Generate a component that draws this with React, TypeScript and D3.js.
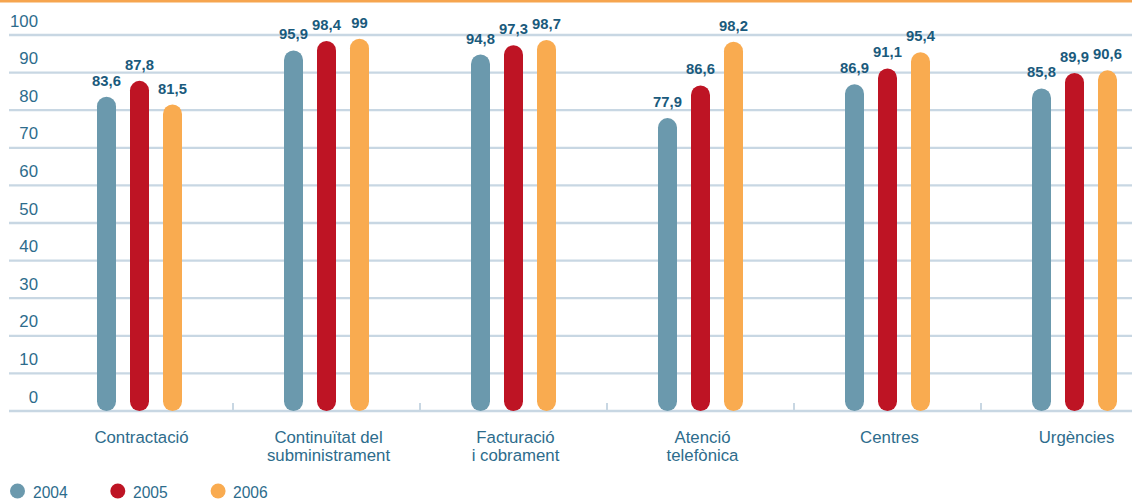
import React from "react";
import * as d3 from "d3";

const categories = [
  "Contractació",
  "Continuïtat del\nsubministrament",
  "Facturació\ni cobrament",
  "Atenció\ntelefònica",
  "Centres",
  "Urgències",
];
const years = ["2004", "2005", "2006"];
const v2004 = [83.6, 95.9, 94.8, 77.9, 86.9, 85.8];
const v2005 = [87.8, 98.4, 97.3, 86.6, 91.1, 89.9];
const v2006 = [81.5, 99, 98.7, 98.2, 95.4, 90.6];
const yTicks = [0, 10, 20, 30, 40, 50, 60, 70, 80, 90, 100];

const series = [v2004, v2005, v2006];
const colors = ["#6b99ad", "#be1424", "#f9ab50"];
const W = 1132;
const H = 501;
const labelColor = "#2d6c8c";
const valueColor = "#1a5a7c";
const gridColor = "#c8d7e3";
const font = "'Liberation Sans', Arial, sans-serif";

export default function App() {
  const x = d3.scaleBand<string>().domain(categories).range([46, 1168]).paddingInner(0);
  const sub = d3.scalePoint<string>().domain(years).range([-33, 33]);
  const y = d3.scaleLinear().domain([0, 100]).range([411, 35]);
  const bw = 19;
  const fmt = (v: number) => String(v).replace(".", ",");

  return (
    <svg
      width={W}
      height={H}
      style={{ position: "absolute", left: 0, top: 0, background: "#fff" }}
      fontFamily={font}
    >
      <rect x={0} y={0} width={W} height={2.5} fill="#f6a54f" />
      {yTicks.map((t) => (
        <g key={t}>
          <line x1={9} x2={W} y1={y(t)} y2={y(t)} stroke={gridColor} strokeWidth={2.3} />
          <text x={38} y={y(t) - 8.5} textAnchor="end" fontSize={16.8} fill={labelColor}>
            {t}
          </text>
        </g>
      ))}
      {categories.slice(1).map((c) => (
        <line
          key={"tk" + c}
          x1={x(c)!}
          x2={x(c)!}
          y1={403}
          y2={411}
          stroke={gridColor}
          strokeWidth={2}
        />
      ))}
      {categories.map((c, i) => {
        const cx = x(c)! + x.bandwidth() / 2;
        return (
          <g key={c}>
            {series.map((s, k) => {
              const bx = cx + sub(years[k])! - bw / 2;
              const top = y(s[i]);
              return (
                <g key={k}>
                  <rect
                    x={bx}
                    y={top}
                    width={bw}
                    height={y(0) - top}
                    rx={bw / 2}
                    ry={bw / 2}
                    fill={colors[k]}
                  />
                  <text
                    x={bx + bw / 2}
                    y={top - 11}
                    textAnchor="middle"
                    fontSize={14.8}
                    fontWeight="bold"
                    fill={valueColor}
                  >
                    {fmt(s[i])}
                  </text>
                </g>
              );
            })}
            {c.split("\n").map((line, j) => (
              <text
                key={j}
                x={cx + 2}
                y={443 + j * 18}
                textAnchor="middle"
                fontSize={16.8}
                fill={labelColor}
              >
                {line}
              </text>
            ))}
          </g>
        );
      })}
      {years.map((yr, k) => (
        <g key={yr}>
          <circle cx={17.5 + k * 100.3} cy={491} r={7.5} fill={colors[k]} />
          <text x={33 + k * 100} y={497.5} fontSize={15.6} fill={labelColor}>
            {yr}
          </text>
        </g>
      ))}
    </svg>
  );
}
